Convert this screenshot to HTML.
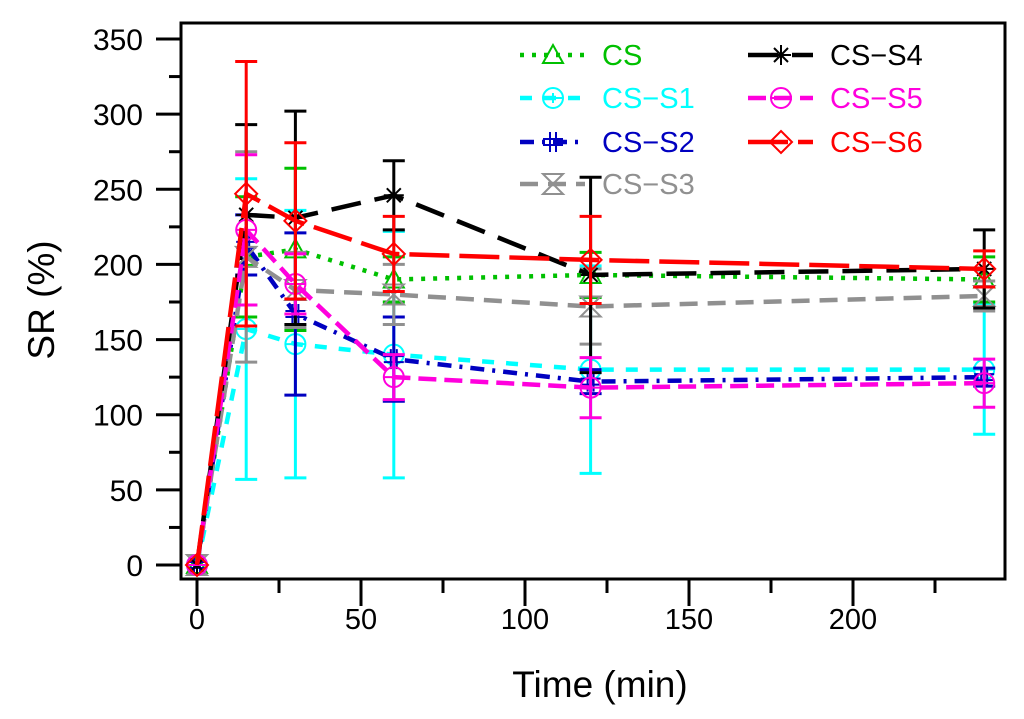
<!DOCTYPE html>
<html><head><meta charset="utf-8"><style>
html,body{margin:0;padding:0;background:#fff}
svg{display:block;font-family:"Liberation Sans",Arial,sans-serif}
</style></head><body>
<svg id="chart" width="1024" height="719" viewBox="0 0 1024 719">
<rect x="181" y="23" width="824" height="556" fill="none" stroke="#000" stroke-width="3"/>
<g id="xaxis"></g>
<g id="yaxis"></g>
<text x="600" y="697" font-size="37" text-anchor="middle">Time (min)</text>
<text transform="translate(54,300) rotate(-90)" font-size="37" text-anchor="middle">SR (%)</text>
<g id="series"></g>
<g id="legend"></g>
</svg>
<script>
const times = [0, 15, 30, 60, 120, 240];
const seriesNames = ["CS","CS\u2212S1","CS\u2212S2","CS\u2212S3","CS\u2212S4","CS\u2212S5","CS\u2212S6"];
const csValues = [0, 205, 210, 190, 193, 190];
const csErr = [0, 40, 54, 15, 15, 15];
const s1Values = [0, 157, 147, 140, 130, 130];
const s1Err = [0, 100, 89, 82, 69, 43];
const s2Values = [0, 213, 167, 137, 122, 125];
const s2Err = [0, 20, 54, 28, 8, 6];
const s3Values = [0, 205, 183, 180, 172, 179];
const s3Err = [0, 70, 25, 20, 25, 10];
const s4Values = [0, 233, 231, 246, 193, 197];
const s4Err = [0, 60, 71, 23, 65, 26];
const s5Values = [0, 223, 187, 125, 118, 121];
const s5Err = [0, 50, 20, 15, 20, 16];
const s6Values = [0, 247, 229, 207, 203, 197];
const s6Err = [0, 88, 52, 25, 29, 12];
const xTicks = [0, 50, 100, 150, 200];
const yTicks = [0, 50, 100, 150, 200, 250, 300, 350];

const NS = "http://www.w3.org/2000/svg";
const X = v => 197 + v * (853 - 197) / 200;
const Y = v => 565 - v * (565 - 39) / 350;
function mk(tag, attrs, parent) {
  const e = document.createElementNS(NS, tag);
  for (const k in attrs) e.setAttribute(k, attrs[k]);
  parent.appendChild(e);
  return e;
}
const xa = document.getElementById("xaxis"), ya = document.getElementById("yaxis");
for (let v = 0; v <= 240; v += 25) {
  const major = v % 50 === 0;
  const t = mk("line", {x1: X(v), x2: X(v), y1: 579, y2: major ? 606 : 593, stroke: "#000", "stroke-width": 3}, xa);
  
  
}
xTicks.forEach(v => {
  const t = mk("text", {x: X(v), y: 629, "font-size": 29, "text-anchor": "middle"}, xa);
  t.textContent = v;
  
  
});
for (let v = 0; v <= 350; v += 25) {
  const major = v % 50 === 0;
  const t = mk("line", {x1: major ? 156 : 169, x2: 181, y1: Y(v), y2: Y(v), stroke: "#000", "stroke-width": 3}, ya);
  
  
}
yTicks.forEach(v => {
  const t = mk("text", {x: 143, y: Y(v) + 11, "font-size": 30, "text-anchor": "end"}, ya);
  t.textContent = v;
  
  
});

const styles = [
  {c: "#00c000", dash: "4 8", m: "tri", v: csValues, e: csErr},
  {c: "#00ffff", dash: "12 12", m: "circplus", v: s1Values, e: s1Err},
  {c: "#0000c0", dash: "14 8 3 8", m: "hash", v: s2Values, e: s2Err},
  {c: "#909090", dash: "18 10", m: "hour", v: s3Values, e: s3Err},
  {c: "#000000", dash: "30 14", m: "star", v: s4Values, e: s4Err},
  {c: "#ff00dd", dash: "18 8", m: "circminus", v: s5Values, e: s5Err},
  {c: "#ff0000", dash: "40 10", m: "diamond", v: s6Values, e: s6Err}
];
function marker(g, type, x, y, c) {
  const a = {fill: "none", stroke: c, "stroke-width": 2};
  const r = 10;
  if (type === "tri") mk("polygon", Object.assign({points: `${x},${y-r} ${x-r},${y+r*0.8} ${x+r},${y+r*0.8}`}, a), g);
  else if (type === "circplus" || type === "circminus") {
    mk("circle", Object.assign({cx: x, cy: y, r: r}, a), g);
    mk("line", Object.assign({x1: x-r, x2: x+r, y1: y, y2: y}, a), g);
    if (type === "circplus") mk("line", Object.assign({x1: x, x2: x, y1: y-5, y2: y+5}, a), g);
  } else if (type === "hash") {
    mk("path", Object.assign({d: `M${x-3},${y-r}V${y+r}M${x+3},${y-r}V${y+r}M${x-r},${y-3}H${x+r}M${x-r},${y+3}H${x+r}`}, a), g);
  } else if (type === "hour") {
    mk("polygon", Object.assign({points: `${x-r},${y-r} ${x+r},${y-r} ${x-r},${y+r} ${x+r},${y+r}`}, a), g);
  } else if (type === "star") {
    mk("path", Object.assign({d: `M${x-r},${y}H${x+r}M${x-7},${y-7}L${x+7},${y+7}M${x+7},${y-7}L${x-7},${y+7}M${x},${y-r}V${y+r}`}, a), g);
  } else if (type === "diamond") {
    mk("polygon", Object.assign({points: `${x},${y-r-1} ${x+r+1},${y} ${x},${y+r+1} ${x-r-1},${y}`}, a), g);
  }
}
const sg = document.getElementById("series");
styles.forEach((s, i) => {
  const g = mk("g", {}, sg);
  
  
  times.forEach((t, j) => {
    if (!s.e[j]) return;
    const x = X(t), y1 = Y(s.v[j] + s.e[j]), y2 = Y(s.v[j] - s.e[j]);
    const eb = mk("path", {d: `M${x},${y1}V${y2}M${x-11},${y1}H${x+11}M${x-11},${y2}H${x+11}`, stroke: s.c, "stroke-width": 3, fill: "none"}, g);
    
    
  });
  const pts = times.map((t, j) => X(t) + "," + Y(s.v[j])).join(" ");
  const pl = mk("polyline", {points: pts, fill: "none", stroke: s.c, "stroke-width": 4.5, "stroke-dasharray": s.dash}, g);
  
  
  times.forEach((t, j) => marker(g, s.m, X(t), Y(s.v[j]), s.c));
});
const lg = document.getElementById("legend");
const legPos = [[520,55],[520,98],[520,142],[520,184],[748,55],[748,98],[748,142]];
styles.forEach((s, i) => {
  const [x, y] = legPos[i];
  const g = mk("g", {}, lg);
  
  
  mk("line", {x1: x, x2: x + 65, y1: y, y2: y, stroke: s.c, "stroke-width": 4.5, "stroke-dasharray": s.dash}, g);
  marker(g, s.m, x + 33, y, s.c);
  const t = mk("text", {x: i < 4 ? 602 : 830, y: y + 10, "font-size": 29, fill: s.c}, g);
  t.textContent = seriesNames[i];
});
</script>
</body></html>
